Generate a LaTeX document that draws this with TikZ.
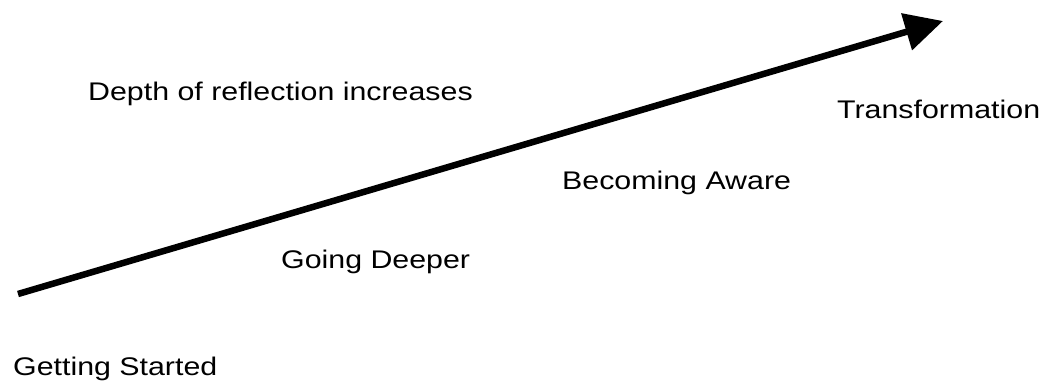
\documentclass[tikz,border=0pt]{standalone}
\usepackage{fontspec}
\setmainfont{Liberation Sans}[FakeStretch=1.19]
\usetikzlibrary{arrows.meta}
\tikzset{
  lbl/.style={anchor=base west, inner sep=0pt, font=\fontsize{25.5}{30}\selectfont, text=black},
  bigarrow/.style={line width=6.5pt, -{Triangle[length=38pt,width=37pt]}}
}
\begin{document}
\begin{tikzpicture}[x=1pt,y=-1pt]
\useasboundingbox (0,0) rectangle (1042,383);
\coordinate (s) at (18,294);
\coordinate (e) at (943,21);
\draw[bigarrow] (s) -- (e);
\node[lbl] (depth) at (88,100) {Depth of reflection increases};
\node[lbl] (trans) at (837,118) {Transformation};
\node[lbl] (aware) at (562,189) {Becoming Aware};
\node[lbl] (deeper) at (281,268) {Going Deeper};
\node[lbl] (start) at (13,375) {Getting Started};
\end{tikzpicture}
\end{document}
